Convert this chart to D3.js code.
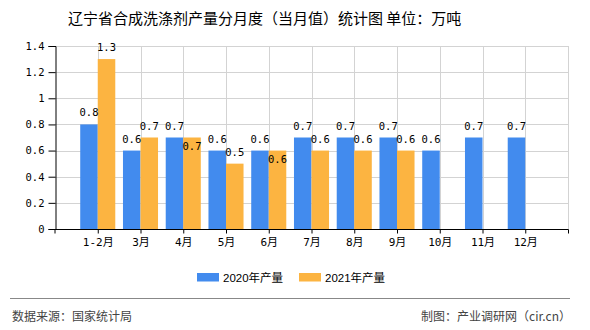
<!DOCTYPE html>
<html><head><meta charset="utf-8">
<script src="https://cdn.jsdelivr.net/npm/d3@7"></script>
<style>body{margin:0;background:#fff}svg{display:block}</style>
</head><body>
<script>
const categories = ["1-2月","3月","4月","5月","6月","7月","8月","9月","10月","11月","12月"];
const series2020 = [0.8,0.6,0.7,0.6,0.6,0.7,0.7,0.7,0.6,0.7,0.7];
const series2021 = [1.3,0.7,0.7,0.5,0.6,0.6,0.6,0.6,null,null,null];
const yTicks = [0,0.2,0.4,0.6,0.8,1,1.2,1.4];
const seriesNames = ["2020年产量","2021年产量"];
const colors = ["#428BEE","#FCB441"];

(function(){
const W=590,H=330;
const svg=d3.select("body").append("svg").attr("width",W).attr("height",H);
const pL=55,pR=568,pT=46,pB=229;
const x=d3.scalePoint().domain(categories).range([pL,pR]).padding(1);
const y=d3.scaleLinear().domain([0,1.4]).range([pB,pT]);
const bw=x.step()*0.41;
const mono="'DejaVu Sans Mono','Noto Sans CJK SC',monospace";

svg.append("text").attr("x",68).attr("y",24).attr("font-family","'Noto Sans CJK SC'").attr("font-size",15).attr("fill","#000")
  .text("辽宁省合成洗涤剂产量分月度（当月值）统计图 单位：万吨");

const g=svg.append("g");
g.selectAll("line.hg").data(yTicks).join("line").attr("class","hg").attr("x1",pL).attr("x2",pR)
  .attr("y1",d=>Math.round(y(d))+0.5).attr("y2",d=>Math.round(y(d))+0.5).attr("stroke","#d3d3d3");
g.selectAll("line.vg").data(categories).join("line").attr("class","vg").attr("y1",pT).attr("y2",pB)
  .attr("x1",d=>Math.round(x(d))+0.5).attr("x2",d=>Math.round(x(d))+0.5).attr("stroke","#d3d3d3");
g.append("line").attr("x1",pR+0.5).attr("x2",pR+0.5).attr("y1",pT).attr("y2",pB).attr("stroke","#d3d3d3");

const data=categories.map((c,i)=>({c,a:series2020[i],b:series2021[i]}));
g.selectAll("rect.a").data(data).join("rect").attr("class","a").attr("x",d=>x(d.c)-bw).attr("width",bw)
  .attr("y",d=>y(d.a)).attr("height",d=>pB-y(d.a)).attr("fill",colors[0]);
g.selectAll("rect.b").data(data.filter(d=>d.b!=null)).join("rect").attr("class","b").attr("x",d=>x(d.c)).attr("width",bw)
  .attr("y",d=>y(d.b)).attr("height",d=>pB-y(d.b)).attr("fill",colors[1]);

g.selectAll("text.la").data(data).join("text").attr("class","la").attr("x",d=>x(d.c)-bw/2).attr("y",d=>y(d.a)-8)
  .attr("text-anchor","middle").attr("font-family",mono).attr("font-size",10.5).attr("fill","#000").text(d=>d.a);
g.selectAll("text.lb").data(data.filter(d=>d.b!=null)).join("text").attr("class","lb").attr("x",d=>x(d.c)+bw/2)
  .attr("y",d=>d.b===d.a? y(d.b)+12 : y(d.b)-8)
  .attr("text-anchor","middle").attr("font-family",mono).attr("font-size",10.5).attr("fill","#000").text(d=>d.b);

const yAxis=d3.axisLeft(y).tickValues(yTicks).tickSize(7).tickFormat(d=>d);
const ya=svg.append("g").attr("transform",`translate(${pL+0.5},0)`).call(yAxis);
ya.selectAll("text").attr("font-family",mono).attr("font-size",10.5).attr("fill","#000").attr("dx","-1");
ya.select(".domain").attr("stroke","#000");
ya.selectAll(".tick line").attr("stroke","#000");

const xa=svg.append("g").attr("transform",`translate(0,${pB+0.5})`).call(d3.axisBottom(x).tickSize(4).tickSizeOuter(4));
xa.select(".domain").attr("stroke","#000").attr("d",`M${pL},4V0H${pR+0.5}V4`);
xa.selectAll(".tick line").attr("stroke","#000");
xa.selectAll("text").attr("font-family",mono).attr("font-size",11).attr("fill","#000").attr("dy","0.9em");

const lg=svg.append("g");
const lx=[197,299];
seriesNames.forEach((n,i)=>{
  lg.append("rect").attr("x",lx[i]).attr("y",273).attr("width",22).attr("height",8.5).attr("fill",colors[i]);
  lg.append("text").attr("x",lx[i]+26).attr("y",282).attr("font-family","'Liberation Sans','Noto Sans CJK SC'").attr("font-size",11.5).attr("fill","#000").text(n);
});

svg.append("line").attr("x1",10).attr("x2",570).attr("y1",298.5).attr("y2",298.5).attr("stroke","#888").attr("stroke-width",1.2);
svg.append("text").attr("x",12).attr("y",321).attr("font-family","'Noto Sans CJK SC'").attr("font-size",12).attr("fill","#444").text("数据来源：国家统计局");
svg.append("text").attr("x",571).attr("y",321).attr("text-anchor","end").attr("font-family","'Noto Sans CJK SC'").attr("font-size",12).attr("fill","#444").text("制图：产业调研网（cir.cn）");
})();
</script>
</body></html>
